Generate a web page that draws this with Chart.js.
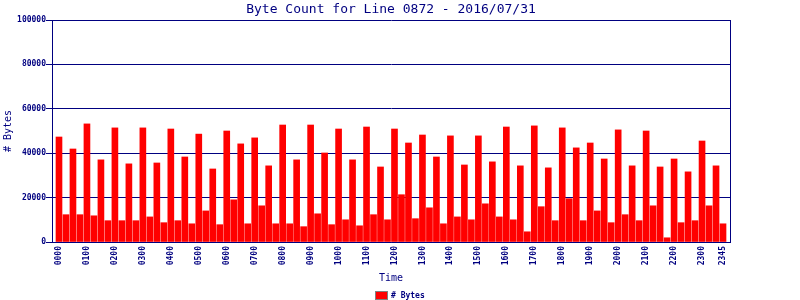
<!DOCTYPE html>
<html>
<head>
<meta charset="utf-8">
<script src="https://cdn.jsdelivr.net/npm/chart.js@4/dist/chart.umd.min.js"></script>
<style>
  html, body { margin: 0; padding: 0; background: #fff; }
  #wrap { width: 800px; height: 300px; }
</style>
</head>
<body>
<div id="wrap"><canvas id="byteChart" width="800" height="300"></canvas></div>
<script>
// Byte count per 15 minutes for line 0872
const chartTitle = 'Byte Count for Line 0872 - 2016/07/31';

const times = [
  '0000','0015','0030','0045','0100','0115','0130','0145','0200','0215','0230','0245',
  '0300','0315','0330','0345','0400','0415','0430','0445','0500','0515','0530','0545',
  '0600','0615','0630','0645','0700','0715','0730','0745','0800','0815','0830','0845',
  '0900','0915','0930','0945','1000','1015','1030','1045','1100','1115','1130','1145',
  '1200','1215','1230','1245','1300','1315','1330','1345','1400','1415','1430','1445',
  '1500','1515','1530','1545','1600','1615','1630','1645','1700','1715','1730','1745',
  '1800','1815','1830','1845','1900','1915','1930','1945','2000','2015','2030','2045',
  '2100','2115','2130','2145','2200','2215','2230','2245','2300','2315','2330','2345'
];

const bytes = [
  47300, 12300, 41900, 12300, 53200, 11800, 37000, 9600, 51400, 9600, 35200, 9600,
  51400, 11300, 35600, 8700, 50900, 9600, 38300, 8200, 48600, 14000, 32900, 7800,
  50000, 19000, 44200, 8200, 46900, 16300, 34300, 8200, 52700, 8200, 37000, 6900,
  52700, 12700, 40100, 7800, 50900, 10000, 37000, 7300, 51800, 12300, 33800, 10000,
  50900, 21300, 44600, 10500, 48200, 15400, 38300, 8200, 47800, 11300, 34700, 10000,
  47800, 17200, 36100, 11300, 51800, 10000, 34300, 4600, 52300, 15900, 33400, 9600,
  51400, 19500, 42400, 9600, 44600, 14000, 37400, 8700, 50500, 12300, 34300, 9600,
  50000, 16300, 33800, 1900, 37400, 8700, 31600, 9600, 45500, 16300, 34300, 8200
];

const yTicks = [0, 20000, 40000, 60000, 80000, 100000];

const navy = '#000080';
const mono = "'DejaVu Sans Mono', 'Liberation Mono', monospace";

// title centred over the plot, right-hand frame line and the small legend
const framePlugin = {
  id: 'frame',
  afterDraw(chart) {
    const { ctx, chartArea } = chart;
    ctx.save();
    ctx.strokeStyle = navy;
    ctx.lineWidth = 1;
    ctx.beginPath();
    ctx.moveTo(Math.round(chartArea.right) + 0.5, chartArea.top);
    ctx.lineTo(Math.round(chartArea.right) + 0.5, chartArea.bottom);
    ctx.stroke();

    ctx.fillStyle = navy;
    ctx.font = '13px ' + mono;
    ctx.textAlign = 'center';
    ctx.textBaseline = 'alphabetic';
    ctx.fillText(chartTitle, (chartArea.left + chartArea.right) / 2, 13);

    // legend
    const ds = chart.data.datasets[0];
    ctx.font = 'bold 8px ' + mono;
    const tw = ctx.measureText(ds.label).width;
    const w = 12 + 4 + tw;
    const x0 = Math.round(chart.width / 2 - w / 2);
    ctx.fillStyle = ds.backgroundColor;
    ctx.fillRect(x0, 291, 12, 8);
    ctx.strokeStyle = '#808080';
    ctx.strokeRect(x0 + 0.5, 291.5, 12, 8);
    ctx.fillStyle = navy;
    ctx.textAlign = 'left';
    ctx.textBaseline = 'middle';
    ctx.fillText(ds.label, x0 + 16, 295.5);
    ctx.restore();
  }
};

new Chart(document.getElementById('byteChart'), {
  type: 'bar',
  data: {
    datasets: [{
      label: '# Bytes',
      data: bytes.map((v, i) => ({ x: i, y: v })),
      backgroundColor: '#ff0000',
      borderWidth: 0,
      barThickness: 6
    }]
  },
  options: {
    responsive: false,
    animation: false,
    devicePixelRatio: 1,
    layout: { padding: { top: 20, right: 70, left: 0, bottom: 0 } },
    plugins: {
      title: { display: false },
      tooltip: { enabled: false },
      legend: { display: false }
    },
    scales: {
      x: {
        type: 'linear',
        min: -1,
        max: 96,
        offset: false,
        grid: { display: false, drawTicks: false },
        border: { display: true, color: navy, width: 1 },
        afterFit: (s) => { s.height = 58; },
        ticks: {
          stepSize: 1,
          autoSkip: false,
          maxTicksLimit: 200,
          minRotation: 90,
          maxRotation: 90,
          padding: 4,
          color: navy,
          font: { family: mono, size: 8, weight: 'bold' },
          callback: (v) => (v >= 0 && v < times.length && (v % 4 === 0 || v === times.length - 1)) ? times[v] : null
        },
        title: {
          display: true,
          text: 'Time',
          color: navy,
          font: { family: mono, size: 10 },
          padding: { top: 0, bottom: 16 }
        }
      },
      y: {
        min: 0,
        max: 100000,
        afterFit: (s) => { s.width = 52; },
        afterBuildTicks: (s) => { s.ticks = yTicks.map(v => ({ value: v })); },
        grid: { color: navy, lineWidth: 1, drawTicks: true, tickLength: 6 },
        border: { display: true, color: navy, width: 1 },
        ticks: {
          padding: 0,
          color: navy,
          font: { family: mono, size: 8, weight: 'bold' },
          callback: (v) => String(v)
        },
        title: {
          display: true,
          text: '# Bytes',
          color: navy,
          font: { family: mono, size: 10 },
          padding: { top: 2, bottom: 0 }
        }
      }
    }
  },
  plugins: [framePlugin]
});
</script>
</body>
</html>
